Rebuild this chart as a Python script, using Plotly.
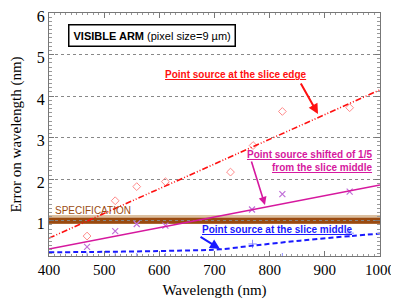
import plotly.graph_objects as go

# Data
wl_line = [400, 1000]
edge_fit = [0.58, 4.15]
shift_fit = [0.32, 1.86]
mid_curve_x = [400, 500, 600, 673, 710, 770, 855, 946, 1000]
mid_curve_y = [0.24, 0.25, 0.27, 0.29, 0.31, 0.40, 0.52, 0.63, 0.69]

edge_pts_x = [469, 520, 559, 611, 729, 770, 823, 945]
edge_pts_y = [0.63, 1.48, 1.82, 1.94, 2.17, 2.81, 3.63, 3.72]
shift_pts_x = [469, 520, 559, 611, 768, 823, 945]
shift_pts_y = [0.37, 0.75, 0.92, 0.88, 1.27, 1.64, 1.70]
mid_pts_x = [469, 520, 559, 611, 769, 823, 945]
mid_pts_y = [0.13, 0.14, 0.12, 0.12, 0.44, 0.12, 0.70]

spec_value = 1.0

RED = "#ff1010"
MAG = "#d6189e"
BLUE = "#1a1aff"
BROWN = "#9a4a10"

fig = go.Figure()
# specification band
fig.add_shape(type="line", xref="paper", yref="y", x0=0, x1=1, y0=spec_value + 0.03, y1=spec_value + 0.03,
              line=dict(color="#dcc0a0", width=9), layer="below")
fig.add_shape(type="line", xref="paper", yref="y", x0=0, x1=1, y0=spec_value, y1=spec_value,
              line=dict(color=BROWN, width=6), layer="below")

fig.add_trace(go.Scatter(x=edge_pts_x, y=edge_pts_y, mode="markers",
                         marker=dict(symbol="diamond-open", size=6, color="#ff8a8a", line=dict(width=1))))
fig.add_trace(go.Scatter(x=shift_pts_x, y=shift_pts_y, mode="markers",
                         marker=dict(symbol="x-thin-open", size=6, color="#c070d8", line=dict(width=1.2))))
fig.add_trace(go.Scatter(x=mid_pts_x, y=mid_pts_y, mode="markers",
                         marker=dict(symbol="cross-thin-open", size=6, color="#8a8aff", line=dict(width=1))))

fig.add_trace(go.Scatter(x=wl_line, y=edge_fit, mode="lines",
                         line=dict(color=RED, width=1.6, dash="6px,2px,1px,2px,1px,2px")))
fig.add_trace(go.Scatter(x=wl_line, y=shift_fit, mode="lines", line=dict(color=MAG, width=1.6)))
fig.add_trace(go.Scatter(x=mid_curve_x, y=mid_curve_y, mode="lines",
                         line=dict(color=BLUE, width=2, dash="5px,3px", shape="spline")))

ann_font = "Liberation Sans"
fig.add_annotation(x=585.8, y=5.46, xref="x", yref="y", showarrow=False,
                   text="<b>VISIBLE ARM</b> (pixel size=9 µm)",
                   font=dict(family=ann_font, size=11, color="black"),
                   bordercolor="black", borderwidth=1.5, borderpad=4, bgcolor="white")
fig.add_annotation(x=606.6, y=4.51, xref="x", yref="y", xanchor="left", showarrow=False,
                   text="<b><u>Point source at the slice edge</u></b>",
                   font=dict(family=ann_font, size=10, color=RED))
fig.add_annotation(x=887.6, y=3.57, xref="x", yref="y", ax=-18, ay=-32, showarrow=True,
                   arrowhead=2, arrowsize=1, arrowwidth=2, arrowcolor=RED, text="")
fig.add_annotation(x=989, y=2.43, xref="x", yref="y", xanchor="right", align="right", showarrow=False,
                   text="<b><u>Point source shifted of 1/5</u></b><br><b><u>from the slice middle</u></b>",
                   font=dict(family=ann_font, size=10, color=MAG))
fig.add_annotation(x=791.5, y=1.38, xref="x", yref="y", ax=-14, ay=-45, showarrow=True,
                   arrowhead=2, arrowsize=1, arrowwidth=1.6, arrowcolor=MAG, text="")
fig.add_annotation(x=673.7, y=0.78, xref="x", yref="y", xanchor="left", showarrow=False,
                   text="<b><u>Point source at the slice middle</u></b>",
                   font=dict(family=ann_font, size=10, color=BLUE))
fig.add_annotation(x=710, y=0.32, xref="x", yref="y", ax=-21, ay=-13, showarrow=True,
                   arrowhead=2, arrowsize=1, arrowwidth=2, arrowcolor=BLUE, text="")
fig.add_annotation(x=407, y=1.24, xref="x", yref="y", xanchor="left", showarrow=False,
                   text="SPECIFICATION", font=dict(family=ann_font, size=10, color=BROWN))

serif = "Times New Roman"
fig.update_layout(
    width=391, height=291, showlegend=False,
    margin=dict(l=41, r=19, t=5, b=43, autoexpand=False),
    paper_bgcolor="white", plot_bgcolor="white",
    font=dict(family=serif, size=14, color="black"),
    xaxis=dict(range=[400, 1000], dtick=100, tick0=400, showgrid=False, zeroline=False, automargin=False,
               showline=True, linecolor="#777", linewidth=1, mirror="allticks",
               ticks="inside", ticklen=5, tickcolor="#777", ticklabeloverflow="allow",
               minor=dict(dtick=10, ticks="inside", ticklen=2, tickcolor="#999"),
               title=dict(text="Wavelength (nm)", font=dict(family=serif, size=15)),
               tickfont=dict(family=serif, size=15)),
    yaxis=dict(range=[0.15, 6], dtick=1, tick0=0, showgrid=True, gridcolor="#888", griddash="dot",
               zeroline=False, showline=True, linecolor="#777", linewidth=1, mirror="allticks", automargin=False,
               ticks="inside", ticklen=5, tickcolor="#777", ticklabeloverflow="allow", ticklabelshift=3,
               minor=dict(dtick=0.1, ticks="inside", ticklen=3, tickcolor="#999"),
               title=dict(text="Error on wavelength (nm)", font=dict(family=serif, size=15)),
               tickfont=dict(family=serif, size=16)),
)
fig.write_html("out.html")
